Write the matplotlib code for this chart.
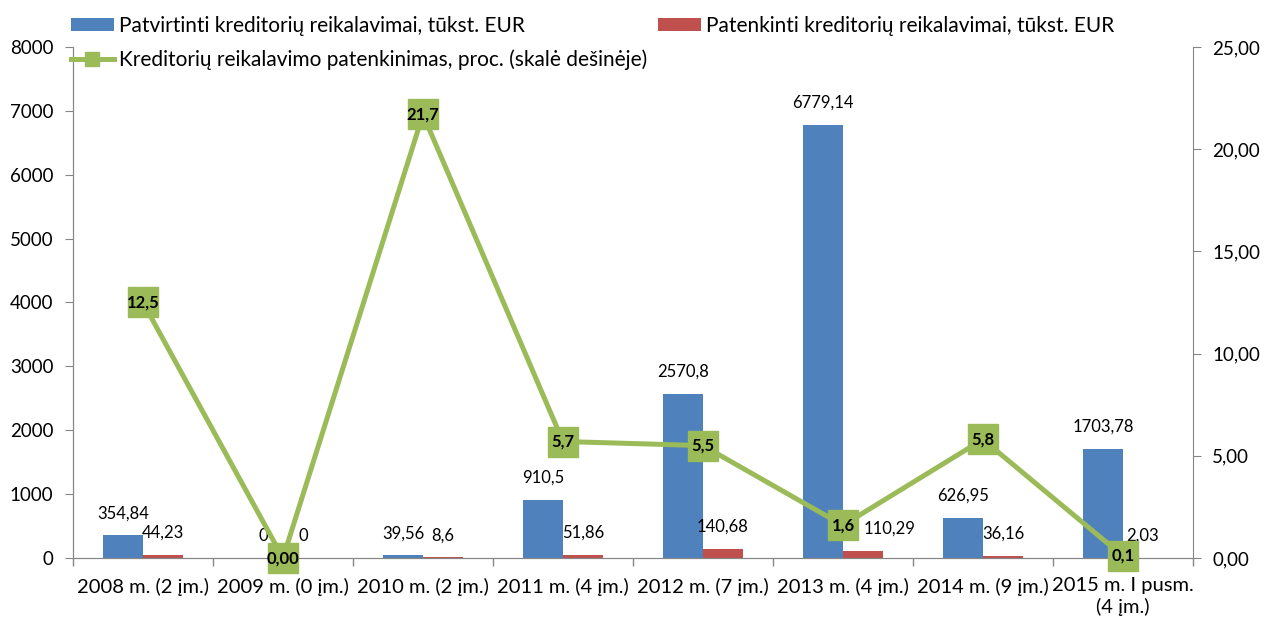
import numpy as np
import matplotlib.pyplot as plt
from matplotlib.ticker import FuncFormatter

plt.rcParams['font.family'] = ['Lato', 'DejaVu Sans']

categories = ['2008 m. (2 įm.)', '2009 m. (0 įm.)', '2010 m. (2 įm.)', '2011 m. (4 įm.)',
              '2012 m. (7 įm.)', '2013 m. (4 įm.)', '2014 m. (9 įm.)', '2015 m. I pusm.\n(4 įm.)']
patvirtinti = [354.84, 0, 39.56, 910.5, 2570.8, 6779.14, 626.95, 1703.78]
patvirtinti_lbl = ['354,84', '0', '39,56', '910,5', '2570,8', '6779,14', '626,95', '1703,78']
patenkinti = [44.23, 0, 8.6, 51.86, 140.68, 110.29, 36.16, 2.03]
patenkinti_lbl = ['44,23', '0', '8,6', '51,86', '140,68', '110,29', '36,16', '2,03']
procentai = [12.5, 0.0, 21.7, 5.7, 5.5, 1.6, 5.8, 0.1]
procentai_lbl = ['12,5', '0,00', '21,7', '5,7', '5,5', '1,6', '5,8', '0,1']

blue = '#4F81BD'
red = '#C0504D'
green = '#9BBB59'
grey = '#868686'

fig = plt.figure(figsize=(12.65, 6.23), dpi=100)
ax = fig.add_axes([0.0577, 0.1043, 0.8853, 0.8203])
ax2 = ax.twinx()

x = np.arange(len(categories))
w = 0.286
b1 = ax.bar(x - w / 2, patvirtinti, w, color=blue, label='Patvirtinti kreditorių reikalavimai, tūkst. EUR')
b2 = ax.bar(x + w / 2, patenkinti, w, color=red, label='Patenkinti kreditorių reikalavimai, tūkst. EUR')

# Excel moved the 2013 red label a bit to the right, away from the marker
shift = {5: 19}
for i in range(len(x)):
    ax.annotate(patvirtinti_lbl[i], (x[i] - w / 2, patvirtinti[i]), xytext=(0, 16),
                textcoords='offset points', ha='center', va='center', fontsize=12)
    ax.annotate(patenkinti_lbl[i], (x[i] + w / 2, patenkinti[i]), xytext=(shift.get(i, 0), 16),
                textcoords='offset points', ha='center', va='center', fontsize=12)

ln, = ax2.plot(x, procentai, color=green, lw=3.6, marker='s', markersize=21,
               markerfacecolor=green, markeredgecolor=green, clip_on=False, zorder=5,
               label='Kreditorių reikalavimo patenkinimas, proc. (skalė dešinėje)')
for i in range(len(x)):
    ax2.text(x[i], procentai[i], procentai_lbl[i], ha='center', va='center',
             fontsize=12, fontweight='bold', zorder=6, clip_on=False)

ax.set_xlim(-0.5, len(x) - 0.5)
ax.set_ylim(0, 8000)
ax.set_yticks(range(0, 8001, 1000))
ax2.set_ylim(0, 25)
ax2.set_yticks(range(0, 26, 5))
ax2.yaxis.set_major_formatter(FuncFormatter(lambda v, p: f'{v:.2f}'.replace('.', ',')))

ax.set_xticks(np.arange(-0.5, len(x), 1))
ax.set_xticklabels([])
ax.set_xticks(x, minor=True)
ax.set_xticklabels(categories, minor=True)
ax.tick_params(axis='x', which='major', length=6, color=grey, width=1)
ax.tick_params(axis='x', which='minor', length=0, labelsize=14.5, pad=14)
ax.tick_params(axis='y', length=6, color=grey, labelsize=13.5, pad=8)
ax2.tick_params(axis='y', length=6, color=grey, labelsize=13.5, pad=8)

for a in (ax, ax2):
    a.spines['top'].set_visible(False)
    for s in ('left', 'right', 'bottom'):
        a.spines[s].set_color(grey)
ax.spines['right'].set_visible(False)

fig.legend([b1, ln, b2], [b1.get_label(), ln.get_label(), b2.get_label()],
           ncol=2, loc='upper left', bbox_to_anchor=(0.041, 1.005), frameon=False,
           fontsize=15, columnspacing=0.5, handlelength=2.1, handletextpad=0.22,
           labelspacing=0.65, markerscale=0.45, handleheight=0.55)

fig.savefig('out.png', dpi=100)
